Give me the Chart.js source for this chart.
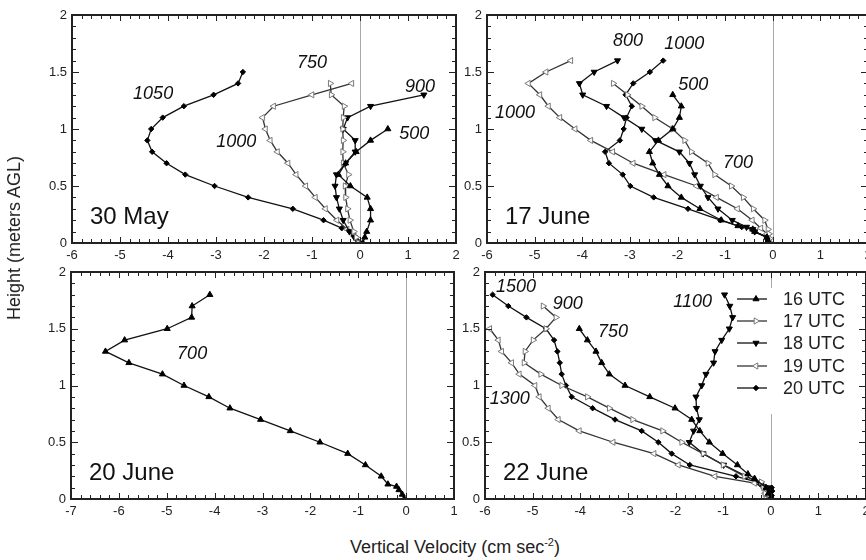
<!DOCTYPE html>
<html>
<head>
<meta charset="utf-8">
<script src="https://cdn.jsdelivr.net/npm/chart.js@4.4.0/dist/chart.umd.min.js"></script>
<style>
  html, body { margin: 0; padding: 0; background: #fff; width: 866px; height: 560px; overflow: hidden; position: relative; }
  canvas { position: absolute; }
  .title { position: absolute; font-family: "Liberation Sans", Arial, sans-serif; font-size: 18px; line-height: 20px; color: #222; white-space: nowrap; }
  #xTitle { left: 0; width: 910px; top: 537px; text-align: center; }
  #xTitle sup { font-size: 11px; vertical-align: 7px; line-height: 0; }
  #yTitle { left: 4px; top: 238px; transform-origin: 0 0; transform: rotate(-90deg) translateX(-50%); }
</style>
</head>
<body>
<canvas id="may30" width="470" height="270" style="left:0;top:0"></canvas>
<canvas id="jun17" width="440" height="270" style="left:440px;top:0"></canvas>
<canvas id="jun20" width="470" height="270" style="left:0;top:258px"></canvas>
<canvas id="jun22" width="440" height="270" style="left:440px;top:258px"></canvas>
<div class="title" id="xTitle">Vertical Velocity (cm sec<sup>-2</sup>)</div>
<div class="title" id="yTitle">Height (meters AGL)</div>
<script>
// ---- data: velocity (cm/s) against height (m) ----
// 30 May
const may30_16_h = [1.0, 0.9, 0.8, 0.7, 0.6, 0.5, 0.4, 0.3, 0.2, 0.1, 0.05, 0];
const may30_16_v = [0.58, 0.22, -0.08, -0.3, -0.45, -0.2, 0.15, 0.22, 0.22, 0.14, 0.1, 0.06];
const may30_17_h = [1.4, 1.3, 1.2, 1.1, 1.0, 0.9, 0.8, 0.7, 0.6, 0.5, 0.4, 0.3, 0.2, 0.1, 0.05, 0];
const may30_17_v = [-0.62, -0.6, -0.33, -0.35, -0.36, -0.35, -0.36, -0.35, -0.24, -0.31, -0.3, -0.26, -0.21, -0.13, -0.08, -0.03];
const may30_18_h = [1.3, 1.2, 1.1, 1.0, 0.9, 0.8, 0.7, 0.6, 0.5, 0.4, 0.3, 0.2, 0.1, 0.05, 0];
const may30_18_v = [1.33, 0.22, -0.26, -0.35, -0.1, -0.1, -0.3, -0.49, -0.52, -0.49, -0.43, -0.35, -0.22, -0.12, -0.02];
const may30_19_h = [1.4, 1.3, 1.2, 1.1, 1.0, 0.9, 0.8, 0.7, 0.6, 0.5, 0.4, 0.3, 0.2, 0.12, 0.06, 0];
const may30_19_v = [-0.17, -1.0, -1.8, -2.03, -1.97, -1.87, -1.72, -1.5, -1.33, -1.13, -0.93, -0.72, -0.48, -0.27, -0.12, -0.05];
const may30_20_h = [1.5, 1.4, 1.3, 1.2, 1.1, 1.0, 0.9, 0.8, 0.7, 0.6, 0.5, 0.4, 0.3, 0.2, 0.13, 0.1, 0.05, 0.02, 0];
const may30_20_v = [-2.44, -2.54, -3.05, -3.67, -4.11, -4.35, -4.43, -4.33, -4.03, -3.64, -3.03, -2.33, -1.4, -0.76, -0.38, -0.22, -0.1, -0.05, 0];

// 17 June
const jun17_16_h = [1.3, 1.2, 1.1, 1.0, 0.9, 0.8, 0.7, 0.6, 0.5, 0.4, 0.3, 0.2, 0.15, 0.12, 0.1, 0.05, 0.02, 0];
const jun17_16_v = [-2.1, -1.92, -1.96, -2.1, -2.4, -2.59, -2.52, -2.38, -2.2, -1.92, -1.53, -1.08, -0.73, -0.42, -0.38, -0.12, -0.1, -0.08];
const jun17_17_h = [1.4, 1.3, 1.2, 1.1, 1.0, 0.9, 0.8, 0.7, 0.6, 0.5, 0.4, 0.3, 0.2, 0.12, 0.08, 0.04, 0];
const jun17_17_v = [-3.35, -3.05, -2.75, -2.48, -2.1, -1.85, -1.71, -1.36, -1.22, -0.87, -0.62, -0.41, -0.17, -0.1, -0.08, -0.06, -0.05];
const jun17_18_h = [1.6, 1.5, 1.4, 1.3, 1.2, 1.1, 1.0, 0.9, 0.8, 0.7, 0.6, 0.5, 0.4, 0.3, 0.2, 0.14, 0.12, 0.1, 0.05, 0.02, 0];
const jun17_18_v = [-3.26, -3.75, -4.06, -3.99, -3.49, -3.12, -2.75, -2.46, -1.96, -1.75, -1.64, -1.52, -1.36, -1.15, -0.85, -0.55, -0.42, -0.38, -0.12, -0.1, -0.08];
const jun17_19_h = [1.6, 1.5, 1.4, 1.3, 1.2, 1.1, 1.0, 0.9, 0.8, 0.7, 0.6, 0.5, 0.4, 0.3, 0.2, 0.13, 0.08, 0.04, 0];
const jun17_19_v = [-4.24, -4.76, -5.13, -4.89, -4.71, -4.47, -4.15, -3.82, -3.36, -2.93, -2.28, -1.6, -1.18, -0.74, -0.43, -0.25, -0.12, -0.1, -0.08];
const jun17_20_h = [1.6, 1.5, 1.4, 1.3, 1.2, 1.1, 1.0, 0.9, 0.8, 0.7, 0.6, 0.5, 0.4, 0.3, 0.2, 0.14, 0.12, 0.1, 0.05, 0.02, 0];
const jun17_20_v = [-2.3, -2.58, -2.93, -3.09, -2.96, -3.07, -3.13, -3.21, -3.52, -3.44, -3.15, -2.99, -2.5, -1.78, -1.1, -0.65, -0.42, -0.38, -0.12, -0.1, -0.08];

// 20 June
const jun20_16_h = [1.8, 1.7, 1.6, 1.5, 1.4, 1.3, 1.2, 1.1, 1.0, 0.9, 0.8, 0.7, 0.6, 0.5, 0.4, 0.3, 0.2, 0.13, 0.11, 0.08, 0.04, 0];
const jun20_16_v = [-4.1, -4.47, -4.48, -4.99, -5.88, -6.28, -5.79, -5.09, -4.64, -4.12, -3.68, -3.04, -2.42, -1.8, -1.22, -0.85, -0.52, -0.38, -0.2, -0.15, -0.08, -0.04];

// 22 June
const jun22_16_h = [1.5, 1.4, 1.3, 1.2, 1.1, 1.0, 0.9, 0.8, 0.7, 0.6, 0.5, 0.4, 0.3, 0.22, 0.18, 0.1, 0.05, 0];
const jun22_16_v = [-4.02, -3.85, -3.67, -3.55, -3.39, -3.06, -2.54, -2.01, -1.66, -1.49, -1.29, -1.01, -0.7, -0.48, -0.34, -0.1, -0.05, 0];
const jun22_17_h = [1.7, 1.6, 1.5, 1.4, 1.3, 1.2, 1.1, 1.0, 0.9, 0.8, 0.7, 0.6, 0.5, 0.4, 0.3, 0.2, 0.15, 0.1, 0.05, 0];
const jun22_17_v = [-4.78, -4.51, -4.72, -4.99, -5.16, -5.18, -4.83, -4.39, -3.85, -3.39, -2.9, -2.27, -1.87, -1.42, -1.0, -0.55, -0.2, -0.15, -0.12, -0.1];
const jun22_18_h = [1.8, 1.7, 1.6, 1.5, 1.4, 1.3, 1.2, 1.1, 1.0, 0.9, 0.8, 0.7, 0.6, 0.5, 0.4, 0.3, 0.2, 0.14, 0.1, 0.05, 0];
const jun22_18_v = [-0.97, -0.86, -0.8, -0.87, -1.03, -1.17, -1.2, -1.36, -1.45, -1.57, -1.56, -1.5, -1.62, -1.71, -1.42, -0.99, -0.51, -0.23, -0.05, 0, 0];
const jun22_19_h = [1.5, 1.4, 1.3, 1.2, 1.1, 1.0, 0.9, 0.8, 0.7, 0.6, 0.5, 0.4, 0.3, 0.2, 0.14, 0.1, 0.05, 0];
const jun22_19_v = [-5.9, -5.72, -5.65, -5.44, -5.28, -4.95, -4.86, -4.67, -4.46, -4.02, -3.31, -2.45, -1.94, -1.17, -0.34, -0.15, -0.12, -0.1];
const jun22_20_h = [1.8, 1.7, 1.6, 1.5, 1.4, 1.3, 1.2, 1.1, 1.0, 0.9, 0.8, 0.7, 0.6, 0.5, 0.4, 0.3, 0.2, 0.14, 0.1, 0.07, 0.03, 0];
const jun22_20_v = [-5.84, -5.51, -5.13, -4.72, -4.55, -4.48, -4.43, -4.39, -4.3, -4.18, -3.74, -3.27, -2.71, -2.36, -2.08, -1.7, -0.73, -0.2, 0.02, 0.03, 0.02, 0];

// panel names, legend, curve labels (anchored in data units)
const panelNames = ['30 May', '17 June', '20 June', '22 June'];
const legendLabels = ['16 UTC', '17 UTC', '18 UTC', '19 UTC', '20 UTC'];
const may30NoteText = ['1050', '750', '900', '1000', '500'];
const may30NoteX = [-4.31, -1.0, 1.25, -2.58, 1.13];
const may30NoteY = [1.31, 1.58, 1.37, 0.89, 0.96];
const jun17NoteText = ['800', '1000', '500', '1000', '700'];
const jun17NoteX = [-3.04, -1.86, -1.67, -5.41, -0.73];
const jun17NoteY = [1.77, 1.75, 1.39, 1.14, 0.70];
const jun20NoteText = ['700'];
const jun20NoteX = [-4.47];
const jun20NoteY = [1.28];
const jun22NoteText = ['1500', '900', '750', '1100', '1300'];
const jun22NoteX = [-5.35, -4.26, -3.31, -1.64, -5.48];
const jun22NoteY = [1.87, 1.72, 1.47, 1.74, 0.88];

const FONT = '"Liberation Sans", Arial, sans-serif';
Chart.defaults.font.family = FONT;
Chart.defaults.color = '#222';

// marker styles per hour
const ST = {
  u16: { pointStyle: 'triangle', pointRotation: 0, pointBackgroundColor: '#000', pointBorderColor: '#000', borderColor: '#111', pointRadius: 3.5 },
  u17: { pointStyle: 'triangle', pointRotation: 90, pointBackgroundColor: '#fff', pointBorderColor: '#7a7a7a', borderColor: '#333', pointRadius: 3.6 },
  u18: { pointStyle: 'triangle', pointRotation: 180, pointBackgroundColor: '#000', pointBorderColor: '#000', borderColor: '#111', pointRadius: 3.5 },
  u19: { pointStyle: 'triangle', pointRotation: 270, pointBackgroundColor: '#fff', pointBorderColor: '#7a7a7a', borderColor: '#333', pointRadius: 3.6 },
  u20: { pointStyle: 'rectRot', pointRotation: 0, pointBackgroundColor: '#000', pointBorderColor: '#000', borderColor: '#111', pointRadius: 2.7 }
};

function series(v, h, st) {
  return Object.assign({
    data: v.map((x, i) => ({ x: x, y: h[i] })),
    showLine: true, borderWidth: 1.3, pointBorderWidth: 1, pointHoverRadius: 3, tension: 0, fill: false
  }, st);
}

function seg(ctx, x1, y1, x2, y2) {
  ctx.beginPath(); ctx.moveTo(x1, y1); ctx.lineTo(x2, y2); ctx.stroke();
}

// zero line, frame with inward ticks (whole-pixel rects), panel name, curve labels, legend
function deco(name, noteText, noteX, noteY, withLegend) {
  return {
    id: 'deco',
    beforeDatasetsDraw(chart) {
      const ctx = chart.ctx, a = chart.chartArea, sx = chart.scales.x;
      ctx.save();
      ctx.fillStyle = '#a8a8a8';
      ctx.fillRect(Math.round(sx.getPixelForValue(0)), Math.round(a.top), 1, Math.round(a.bottom - a.top));
      ctx.restore();
    },
    afterDraw(chart) {
      const ctx = chart.ctx, a = chart.chartArea, sx = chart.scales.x, sy = chart.scales.y;
      const L = Math.round(a.left), T = Math.round(a.top), R = Math.round(a.right), B = Math.round(a.bottom);
      ctx.save();
      ctx.fillStyle = '#222';
      const nx = Math.round((sx.max - sx.min) * 5);
      for (let i = 0; i <= nx; i++) {
        const len = i % 5 === 0 ? 6 : 4;
        const px = Math.round(sx.getPixelForValue(sx.min + i * 0.2));
        ctx.fillRect(px, B - len, 1, len);
        ctx.fillRect(px, T, 1, len);
      }
      const ny = Math.round((sy.max - sy.min) * 10);
      for (let i = 0; i <= ny; i++) {
        const len = i % 5 === 0 ? 7 : 4;
        const py = Math.round(sy.getPixelForValue(sy.min + i * 0.1));
        ctx.fillRect(L, py, len, 1);
        ctx.fillRect(R - len, py, len, 1);
      }
      ctx.fillRect(L - 1, T - 1, R - L + 2, 2);
      ctx.fillRect(L - 1, B - 1, R - L + 2, 2);
      ctx.fillRect(L - 1, T - 1, 2, B - T + 2);
      ctx.fillRect(R - 1, T - 1, 2, B - T + 2);

      ctx.fillStyle = '#111';
      ctx.font = '24px ' + FONT;
      ctx.textAlign = 'left';
      ctx.textBaseline = 'alphabetic';
      ctx.fillText(name, L + 18, B - 19);

      ctx.font = 'italic 18px ' + FONT;
      ctx.textAlign = 'center';
      ctx.textBaseline = 'middle';
      noteText.forEach((t, i) => {
        ctx.fillText(t, sx.getPixelForValue(noteX[i]), sy.getPixelForValue(noteY[i]));
      });

      if (withLegend) {
        ctx.fillStyle = '#fff';
        ctx.fillRect(L + 252, T + 16, 120, 126);
        legendLabels.forEach((lab, i) => {
          const ds = chart.data.datasets[i];
          const ly = T + 27 + Math.round(i * 22.2);
          const x1 = L + 252;
          ctx.strokeStyle = ds.borderColor;
          ctx.lineWidth = 1.3;
          seg(ctx, x1, ly, x1 + 30, ly);
          ctx.fillStyle = ds.pointBackgroundColor;
          ctx.strokeStyle = ds.pointBorderColor;
          ctx.lineWidth = 1;
          Chart.helpers.drawPoint(ctx, { pointStyle: ds.pointStyle, rotation: ds.pointRotation, radius: ds.pointRadius, borderWidth: 1 }, x1 + 19, ly);
          ctx.fillStyle = '#222';
          ctx.font = '18px ' + FONT;
          ctx.textAlign = 'left';
          ctx.textBaseline = 'middle';
          ctx.fillText(lab, L + 298, ly + 1);
        });
      }
      ctx.restore();
    }
  };
}

function panel(id, datasets, xMin, xMax, padTop, padRight, yW, xH, plugin) {
  return new Chart(document.getElementById(id), {
    type: 'scatter',
    data: { datasets: datasets },
    options: {
      responsive: false,
      animation: false,
      devicePixelRatio: 1,
      layout: { padding: { left: 0, top: padTop, right: padRight, bottom: 0 } },
      plugins: { legend: { display: false }, tooltip: { enabled: false } },
      scales: {
        x: {
          type: 'linear', min: xMin, max: xMax,
          grid: { display: false, drawTicks: false }, border: { display: false },
          ticks: { stepSize: 1, padding: 5, color: '#222', font: { size: 13 }, maxRotation: 0, autoSkip: false, callback: v => String(v) },
          afterFit(s) { s.height = xH; }
        },
        y: {
          type: 'linear', min: 0, max: 2,
          grid: { display: false, drawTicks: false }, border: { display: false },
          ticks: { stepSize: 0.5, padding: 5, color: '#222', font: { size: 13 }, autoSkip: false, callback: v => String(v) },
          afterFit(s) { s.width = yW; }
        }
      }
    },
    plugins: [plugin]
  });
}

panel('may30', [
  series(may30_16_v, may30_16_h, ST.u16),
  series(may30_17_v, may30_17_h, ST.u17),
  series(may30_18_v, may30_18_h, ST.u18),
  series(may30_19_v, may30_19_h, ST.u19),
  series(may30_20_v, may30_20_h, ST.u20)
], -6, 2, 15, 14, 72, 27, deco(panelNames[0], may30NoteText, may30NoteX, may30NoteY, false));

panel('jun17', [
  series(jun17_16_v, jun17_16_h, ST.u16),
  series(jun17_17_v, jun17_17_h, ST.u17),
  series(jun17_18_v, jun17_18_h, ST.u18),
  series(jun17_19_v, jun17_19_h, ST.u19),
  series(jun17_20_v, jun17_20_h, ST.u20)
], -6, 2, 15, 12, 47, 27, deco(panelNames[1], jun17NoteText, jun17NoteX, jun17NoteY, false));

panel('jun20', [
  series(jun20_16_v, jun20_16_h, ST.u16)
], -7, 1, 14, 16, 71, 29, deco(panelNames[2], jun20NoteText, jun20NoteX, jun20NoteY, false));

panel('jun22', [
  series(jun22_16_v, jun22_16_h, ST.u16),
  series(jun22_17_v, jun22_17_h, ST.u17),
  series(jun22_18_v, jun22_18_h, ST.u18),
  series(jun22_19_v, jun22_19_h, ST.u19),
  series(jun22_20_v, jun22_20_h, ST.u20)
], -6, 2, 14, 14, 45, 29, deco(panelNames[3], jun22NoteText, jun22NoteX, jun22NoteY, true));
</script>
</body>
</html>
